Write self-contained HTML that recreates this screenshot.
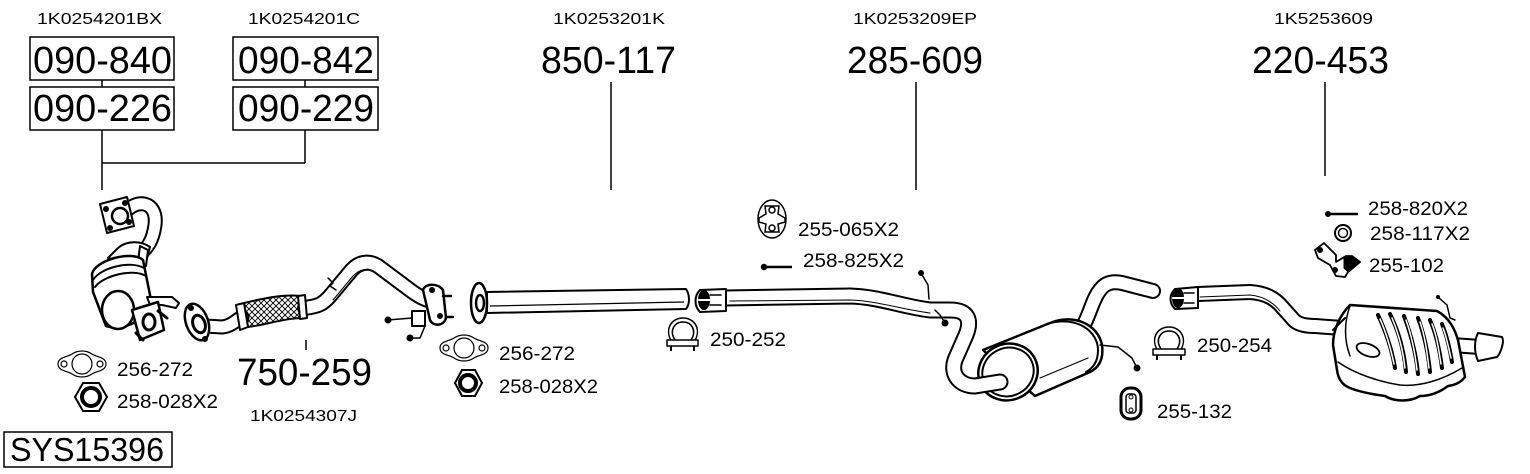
<!DOCTYPE html>
<html>
<head>
<meta charset="utf-8">
<style>
html,body{margin:0;padding:0;background:#fff;}
svg{display:block;}
text{font-family:"Liberation Sans",Arial,sans-serif;fill:#000;}
</style>
</head>
<body>
<svg width="1530" height="474" viewBox="0 0 1530 474" xmlns="http://www.w3.org/2000/svg">
<defs>
<pattern id="hatch" width="6" height="6" patternUnits="userSpaceOnUse">
<path d="M0 0 L6 6 M6 0 L0 6" stroke="#000" stroke-width="0.9"/>
</pattern>
</defs>
<rect width="1530" height="474" fill="#fff"/>

<!-- ===== Top labels & boxes ===== -->
<g stroke="#000" stroke-width="1.5" fill="none">
<rect x="30" y="37" width="144" height="43"/>
<rect x="30" y="87" width="144" height="43"/>
<rect x="233" y="37" width="145" height="43"/>
<rect x="233" y="87" width="145" height="43"/>
<rect x="4" y="432" width="168" height="35"/>
<path d="M102 80 V87 M305 80 V87 M102 130 V190 M305 130 V163 M102 163 H305"/>
<path d="M611 82 V190 M916 82 V190 M1325 82 V176 M306 340 V350"/>
</g>

<g font-size="16">
<text x="37" y="24" textLength="125" lengthAdjust="spacingAndGlyphs">1K0254201BX</text>
<text x="248" y="24" textLength="112" lengthAdjust="spacingAndGlyphs">1K0254201C</text>
<text x="553" y="24" textLength="112" lengthAdjust="spacingAndGlyphs">1K0253201K</text>
<text x="853" y="24" textLength="124" lengthAdjust="spacingAndGlyphs">1K0253209EP</text>
<text x="1274" y="24" textLength="99" lengthAdjust="spacingAndGlyphs">1K5253609</text>
<text x="250" y="421" textLength="107" lengthAdjust="spacingAndGlyphs">1K0254307J</text>
</g>
<g font-size="38">
<text x="33" y="73" textLength="139" lengthAdjust="spacingAndGlyphs">090-840</text>
<text x="33" y="121" textLength="139" lengthAdjust="spacingAndGlyphs">090-226</text>
<text x="238" y="73" textLength="136" lengthAdjust="spacingAndGlyphs">090-842</text>
<text x="238" y="121" textLength="136" lengthAdjust="spacingAndGlyphs">090-229</text>
<text x="541" y="73" textLength="135" lengthAdjust="spacingAndGlyphs">850-117</text>
<text x="847" y="73" textLength="136" lengthAdjust="spacingAndGlyphs">285-609</text>
<text x="1252" y="73" textLength="137" lengthAdjust="spacingAndGlyphs">220-453</text>
<text x="237" y="385" textLength="135" lengthAdjust="spacingAndGlyphs">750-259</text>
</g>
<text x="10" y="461" font-size="33" textLength="154" lengthAdjust="spacingAndGlyphs">SYS15396</text>

<g font-size="19.5">
<text x="117" y="376" textLength="76" lengthAdjust="spacingAndGlyphs">256-272</text>
<text x="117" y="408" textLength="101" lengthAdjust="spacingAndGlyphs">258-028X2</text>
<text x="499" y="360" textLength="76" lengthAdjust="spacingAndGlyphs">256-272</text>
<text x="499" y="393" textLength="99" lengthAdjust="spacingAndGlyphs">258-028X2</text>
<text x="710" y="346" textLength="76" lengthAdjust="spacingAndGlyphs">250-252</text>
<text x="798" y="236" textLength="101" lengthAdjust="spacingAndGlyphs">255-065X2</text>
<text x="803" y="267" textLength="101" lengthAdjust="spacingAndGlyphs">258-825X2</text>
<text x="1197" y="352" textLength="75" lengthAdjust="spacingAndGlyphs">250-254</text>
<text x="1157" y="418" textLength="75" lengthAdjust="spacingAndGlyphs">255-132</text>
<text x="1368" y="215" textLength="100" lengthAdjust="spacingAndGlyphs">258-820X2</text>
<text x="1370" y="240" textLength="100" lengthAdjust="spacingAndGlyphs">258-117X2</text>
<text x="1369" y="272" textLength="75" lengthAdjust="spacingAndGlyphs">255-102</text>
</g>

<!-- ===== Catalytic converter ===== -->
<g stroke="#000" stroke-width="2" fill="#fff" stroke-linejoin="round" stroke-linecap="round">
<path d="M124 214 C135 198, 158 200, 155 225 C153 240, 148 248, 138 256" stroke-width="15" fill="none"/>
<path d="M124 214 C135 198, 158 200, 155 225 C153 240, 148 248, 138 256" stroke="#fff" stroke-width="11" fill="none"/>
<polygon points="100,204 127,197 134,226 107,233"/>
<circle cx="120" cy="216" r="8" stroke-width="2.5"/>
<circle cx="106" cy="209" r="2" fill="#000"/>
<circle cx="125" cy="203" r="2" fill="#000"/>
<circle cx="129" cy="222" r="2" fill="#000"/>
<circle cx="110" cy="228" r="2" fill="#000"/>
<path d="M108 258 L118 248 C126 241, 140 240, 150 247 L145 266 Z"/>
<path d="M140 246 L148 250 L146 266 L138 262 Z"/>
<path d="M92 274 C95 260, 132 250, 143 260 L151 300 C150 318, 125 332, 106 326 L93 292 Z" stroke-width="2.5"/>
<path d="M93 280 C100 268, 130 260, 144 268" fill="none"/>
<path d="M95 287 C103 276, 132 268, 146 276" fill="none"/>
<ellipse cx="118" cy="310" rx="16" ry="19" stroke-width="2.5"/>
<path d="M147 297 L172 297 L179 303 L176 308 L162 305 L150 305 Z"/>
<path d="M132 310 L158 302 L164 330 L140 340 Z" stroke-width="2.5"/>
<ellipse cx="149" cy="322" rx="6" ry="8" stroke-width="3"/>
<path d="M158 311 L167 318 M136 333 L143 340" stroke-width="3"/>
</g>

<!-- ===== Front pipe 750-259 ===== -->
<g stroke="#000" stroke-width="2" fill="#fff" stroke-linejoin="round" stroke-linecap="round">
<path d="M205 326 L222 327 C232 326, 236 320, 242 317" stroke-width="15" fill="none"/>
<path d="M205 326 L222 327 C232 326, 236 320, 242 317" stroke="#fff" stroke-width="11" fill="none"/>
<ellipse cx="197" cy="322" rx="11" ry="19" transform="rotate(-20 197 322)" stroke-width="2.5"/>
<ellipse cx="199" cy="324" rx="6" ry="9" transform="rotate(-20 199 324)" stroke-width="3"/>
<circle cx="191" cy="308" r="2" fill="#000"/>
<circle cx="205" cy="339" r="2" fill="#000"/>
<path d="M305 308 C318 306, 322 305, 330 296 L350 272 C358 262, 368 260, 378 266 L410 290 C418 296, 425 300, 435 302" stroke-width="16" fill="none"/>
<path d="M305 308 C318 306, 322 305, 330 296 L350 272 C358 262, 368 260, 378 266 L410 290 C418 296, 425 300, 435 302" stroke="#fff" stroke-width="12" fill="none"/>
<path d="M333 300 L353 276 C360 269, 366 268, 374 272" fill="none" stroke-width="1"/>
<path d="M328 278 L333 283 L330 286 L336 290" fill="none" stroke-width="1.5"/>
<path d="M244 303 C265 298, 285 294, 300 296 L303 318 C285 318, 265 325, 248 327 Z" fill="url(#hatch)"/>
<path d="M236 305 L244 303 L248 327 L240 330 Z"/>
<path d="M298 296 L305 295 L307 318 L300 319 Z"/>
<path d="M423 290 C425 283, 438 283, 443 290 L446 318 C444 326, 433 327, 430 320 Z" stroke-width="2.5"/>
<circle cx="432" cy="290" r="2" fill="#000"/>
<circle cx="440" cy="316" r="2" fill="#000"/>
<path d="M443 296 L451 296 M446 317 L453 317" stroke-width="2.5"/>
<rect x="412" y="311" width="13" height="15"/>
<path d="M388 320 L412 318 M410 338 L420 338 L425 326" fill="none" stroke-width="1.5"/>
<circle cx="388" cy="320" r="2.5" fill="#000"/>
<circle cx="410" cy="338" r="2.5" fill="#000"/>
</g>

<!-- ===== Gaskets & nuts ===== -->
<g stroke="#000" stroke-width="1.2" fill="#fff">
<path d="M58 364 C58 357, 68 357, 72 354 C78 350, 86 350, 92 354 C96 357, 106 357, 106 364 C106 371, 96 371, 92 374 C86 378, 78 378, 72 374 C68 371, 58 371, 58 364 Z"/>
<circle cx="82" cy="364" r="10"/>
<circle cx="64" cy="364" r="3"/>
<circle cx="100" cy="364" r="3"/>
<path d="M440 348 C440 341, 450 341, 454 338 C460 334, 468 334, 474 338 C478 341, 488 341, 488 348 C488 355, 478 355, 474 358 C468 362, 460 362, 454 358 C450 355, 440 355, 440 348 Z"/>
<circle cx="464" cy="348" r="10"/>
<circle cx="446" cy="348" r="3"/>
<circle cx="482" cy="348" r="3"/>
</g>
<g stroke="#000" fill="#fff">
<polygon points="75,397 83,383 99,383 107,397 99,411 83,411" stroke-width="2"/>
<circle cx="91" cy="397" r="9" stroke-width="4"/>
<polygon points="455,383 462,370 475,370 482,383 475,396 462,396" stroke-width="2"/>
<circle cx="468" cy="383" r="8" stroke-width="4"/>
</g>

<!-- ===== Middle pipe 850-117 ===== -->
<g stroke="#000" stroke-width="2" fill="#fff" stroke-linejoin="round">
<path d="M487 292 L686 289 C690 295, 690 304, 686 309 L487 313 Z"/>
<path d="M490 306 L684 302" fill="none" stroke-width="1.2"/>
<ellipse cx="479" cy="303" rx="8" ry="20" stroke-width="2.5"/>
<ellipse cx="480" cy="303" rx="4" ry="8" stroke-width="2.5"/>
</g>

<!-- ===== Clamps ===== -->
<g stroke="#000" stroke-width="1.5" fill="#fff" stroke-linejoin="round">
<path d="M672 342 C664 330, 671 318, 683 318 C695 318, 702 330, 694 342 Z"/>
<path d="M675 340 C669 331, 674 322, 683 322 C692 322, 697 331, 691 340" fill="none"/>
<rect x="667" y="340" width="31" height="6"/>
<path d="M671 346 V351 M694 346 V351" stroke-width="2"/>
<path d="M1158 351 C1150 339, 1157 327, 1169 327 C1181 327, 1188 339, 1180 351 Z"/>
<path d="M1161 349 C1155 340, 1160 331, 1169 331 C1178 331, 1183 340, 1177 349" fill="none"/>
<rect x="1153" y="349" width="32" height="6"/>
<path d="M1157 355 V360 M1181 355 V360" stroke-width="2"/>
</g>

<!-- ===== Hanger 255-065X2, bolt 258-825X2 ===== -->
<g stroke="#000" stroke-width="1.5" fill="#fff">
<ellipse cx="772" cy="219" rx="14" ry="19"/>
<path d="M765 206 L779 206 L778 214 L785 218 L785 222 L778 224 L779 232 L765 232 L766 224 L759 222 L759 218 L766 214 Z"/>
<circle cx="772" cy="210" r="3"/>
<circle cx="772" cy="228" r="3"/>
<circle cx="764" cy="267" r="2.5" fill="#000"/>
<path d="M766 267 H792" stroke-width="2.5"/>
</g>

<!-- ===== Pipe 285-609 + middle muffler ===== -->
<g stroke="#000" stroke-width="2" fill="#fff" stroke-linejoin="round" stroke-linecap="round">
<path d="M1082 328 C1090 315, 1092 300, 1100 290 C1105 283, 1112 281, 1122 283 L1153 291" stroke-width="16" fill="none"/>
<path d="M1082 328 C1090 315, 1092 300, 1100 290 C1105 283, 1112 281, 1122 283 L1153 291" stroke="#fff" stroke-width="12" fill="none"/>
<path d="M983 350 L1050 323 C1075 313, 1098 325, 1102 345 C1104 360, 1098 368, 1090 372 L1035 396 Z" stroke-width="2.5"/>
<path d="M1047 324 C1078 315, 1098 332, 1098 350 C1098 362, 1093 368, 1086 372" fill="none"/>
<path d="M1040 378 L1088 358" fill="none" stroke-width="1.2"/>
<ellipse cx="1008" cy="372" rx="30" ry="28" transform="rotate(-25 1008 372)" stroke-width="2.5"/>
<ellipse cx="1008" cy="372" rx="26" ry="24" transform="rotate(-25 1008 372)" fill="none"/>
<path d="M725 298 L850 296 C880 297, 900 306, 930 310 L950 310 C968 310, 972 320, 966 335 L955 360 C950 375, 960 386, 975 386 L1000 382" stroke-width="17" fill="none"/>
<path d="M725 298 L850 296 C880 297, 900 306, 930 310 L950 310 C968 310, 972 320, 966 335 L955 360 C950 375, 960 386, 975 386 L1000 382" stroke="#fff" stroke-width="13" fill="none"/>
<path d="M730 301 L850 300 C878 301, 900 309, 930 313" fill="none" stroke-width="1"/>
<path d="M700 290 L726 289 L726 311 L700 312 C694 306, 694 296, 700 290 Z"/>
<ellipse cx="704" cy="300" rx="5" ry="9" fill="#000"/>
<path d="M699 300 L720 300" stroke="#fff" stroke-width="2"/>
<path d="M710 295 L721 295 M710 305 L721 305" stroke-width="1.5"/>
<path d="M921 273 L928 285 L929 299 M935 310 L940 315 L945 323 M1100 345 L1118 347 L1132 358 L1137 368" fill="none" stroke-width="1.5"/>
<circle cx="921" cy="273" r="2" fill="#000"/>
<circle cx="945" cy="323" r="2.5" fill="#000"/>
<circle cx="1137" cy="368" r="2.5" fill="#000"/>
</g>

<!-- ===== 255-132 ===== -->
<g stroke="#000" fill="#fff">
<rect x="1121" y="388" width="20" height="31" rx="9" stroke-width="3"/>
<rect x="1126" y="394" width="10" height="19" rx="3" stroke-width="1.5"/>
<circle cx="1131" cy="397" r="2" stroke-width="1"/>
<circle cx="1131" cy="410" r="2" stroke-width="1"/>
</g>

<!-- ===== Rear section ===== -->
<g stroke="#000" stroke-width="2" fill="#fff" stroke-linejoin="round" stroke-linecap="round">
<path d="M1198 294 L1250 292 C1265 293, 1275 298, 1283 308 L1292 318 C1296 324, 1305 326, 1315 326 L1342 328" stroke-width="16" fill="none"/>
<path d="M1198 294 L1250 292 C1265 293, 1275 298, 1283 308 L1292 318 C1296 324, 1305 326, 1315 326 L1342 328" stroke="#fff" stroke-width="12" fill="none"/>
<path d="M1200 297 L1250 295 C1262 296, 1272 301, 1280 311" fill="none" stroke-width="1"/>
<path d="M1175 289 L1198 287 L1198 308 L1175 309 C1169 303, 1169 295, 1175 289 Z"/>
<ellipse cx="1178" cy="298" rx="5" ry="9" fill="#000"/>
<path d="M1173 298 L1193 298" stroke="#fff" stroke-width="2"/>
<path d="M1184 293 L1194 293 M1184 303 L1194 303" stroke-width="1.5"/>
<!-- tailpipe -->
<path d="M1452 345 L1480 347" stroke-width="16" fill="none"/>
<path d="M1452 345 L1480 347" stroke="#fff" stroke-width="12" fill="none"/>
<path d="M1478 333 L1502 337 C1505 342, 1500 354, 1497 357 L1478 361 C1474 352, 1474 341, 1478 333 Z"/>
<!-- muffler -->
<path d="M1350 305 L1437 311 C1450 318, 1455 330, 1458 340 L1465 377 C1460 383, 1455 385, 1448 386 C1440 392, 1430 396, 1420 396 C1410 402, 1395 402, 1385 396 C1370 394, 1360 392, 1350 388 C1342 385, 1338 378, 1337 370 L1333 345 C1333 330, 1340 315, 1350 305 Z" stroke-width="2.5"/>
<path d="M1338 362 C1355 374, 1380 382, 1400 385 C1420 387, 1442 380, 1462 368" fill="none" stroke-width="1.5"/>
<path d="M1350 306 C1344 322, 1344 340, 1350 356" fill="none" stroke-width="1.5"/>
<path d="M1345 318 L1333 330" fill="none"/>
<ellipse cx="1368" cy="350" rx="12" ry="6" transform="rotate(20 1368 350)" stroke-width="1.8"/>
</g>
<g stroke="#000" stroke-linecap="round" fill="none">
<g stroke-width="4">
<path d="M1378 315 C1385 330, 1392 350, 1395 368"/>
<path d="M1390 314 C1398 330, 1404 350, 1406 372"/>
<path d="M1404 316 C1410 332, 1416 352, 1418 374"/>
<path d="M1418 318 C1424 334, 1428 352, 1430 372"/>
<path d="M1430 320 C1436 334, 1440 352, 1442 368"/>
<path d="M1442 324 C1447 336, 1450 350, 1452 362"/>
</g>
<g stroke="#fff" stroke-width="1.5">
<path d="M1380 319 C1386 332, 1391 350, 1394 364"/>
<path d="M1392 318 C1398 332, 1403 350, 1405 368"/>
<path d="M1406 320 C1411 334, 1415 352, 1417 370"/>
<path d="M1420 322 C1425 336, 1427 352, 1429 368"/>
<path d="M1432 324 C1437 336, 1439 352, 1441 364"/>
<path d="M1443 328 C1447 338, 1449 350, 1451 358"/>
</g>
<path d="M1438 297 L1447 305 L1450 318 L1455 320" stroke-width="1.5"/>
</g>
<circle cx="1438" cy="297" r="2" fill="#000"/>

<!-- ===== right small parts ===== -->
<g stroke="#000" fill="#fff">
<circle cx="1328" cy="214" r="2.5" fill="#000"/>
<path d="M1330 214 H1358" stroke-width="2.5"/>
<circle cx="1343" cy="233" r="8" stroke-width="2"/>
<circle cx="1343" cy="233" r="4.5" stroke-width="1.5"/>
<path d="M1315 250 L1324 243 L1336 255 L1336 262 L1346 256 L1352 256 L1360 262 L1348 272 L1345 277 L1336 276 L1330 265 L1318 258 Z" stroke-width="1.8" stroke-linejoin="round"/>
<path d="M1344 258 L1352 256 L1360 262 L1348 272 L1344 268 Z" fill="#000"/>
<circle cx="1320" cy="250" r="2.5" fill="#000"/>
<circle cx="1335" cy="270" r="2.5" fill="#000"/>
</g>
</svg>
</body>
</html>
